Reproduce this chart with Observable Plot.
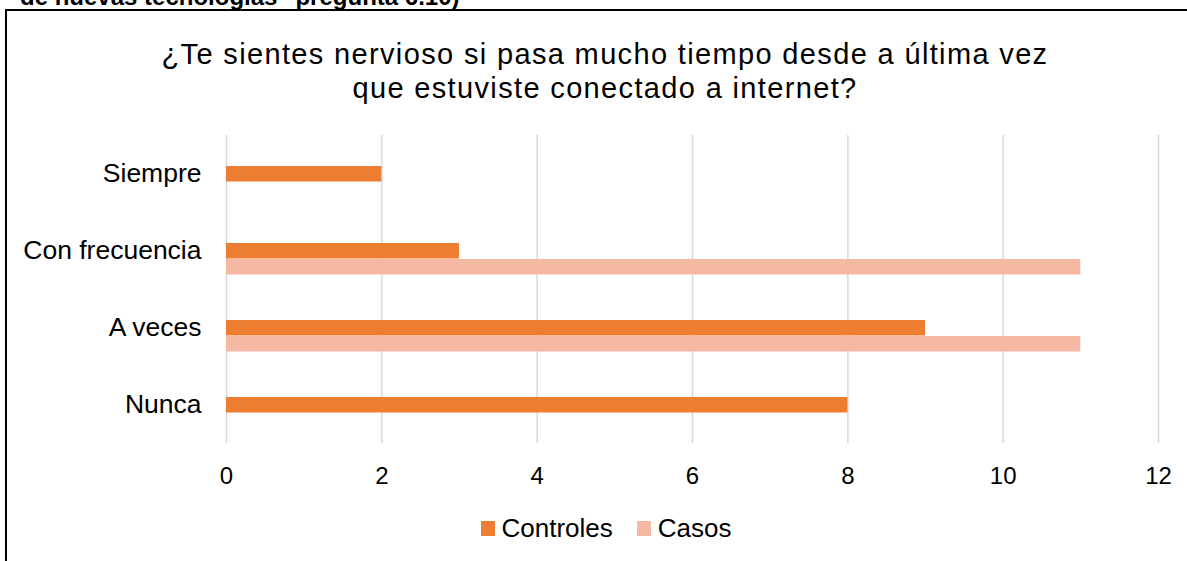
<!DOCTYPE html>
<html>
<head>
<meta charset="utf-8">
<script src="https://cdn.jsdelivr.net/npm/d3@7"></script>
<script src="https://cdn.jsdelivr.net/npm/@observablehq/plot@0.6"></script>
<style>
  body { margin: 0; background: #fff; font-family: "Liberation Sans", Arial, sans-serif; }
  #wrap { position: relative; width: 1187px; height: 561px; overflow: hidden; background: #fff; }
  #head { position: absolute; left: 20px; top: -15px; font-weight: bold; font-size: 24px; line-height: 24px; white-space: nowrap; color: #000; }
  #box { position: absolute; left: 5px; top: 9px; width: 1300px; height: 700px; border: 2px solid #000; box-sizing: border-box; }
  #title { position: absolute; left: 0; width: 1210px; top: 37px; text-align: center; font-size: 29px; line-height: 34px; letter-spacing: 1.35px; color: #000; }
  #chart { position: absolute; left: 0; top: 120px; }
  #legend { position: absolute; left: 0; width: 1212px; top: 513px; display: flex; justify-content: center; align-items: center; font-size: 26px; line-height: 30px; color: #000; }
  .item { display: flex; align-items: center; margin: 0 12px; }
  .sw { width: 14px; height: 15px; margin-right: 7px; }
</style>
</head>
<body>
<div id="wrap">
  <div id="head">de nuevas tecnologías" pregunta 6.10)</div>
  <div id="box"></div>
  <div id="title">¿Te sientes nervioso si pasa mucho tiempo desde a última vez<br>que estuviste conectado a internet?</div>
  <div id="chart"></div>
  <div id="legend"></div>
</div>
<script>
const categories = ["Siempre", "Con frecuencia", "A veces", "Nunca"];
const controles = [2, 3, 9, 8];
const casos = [0, 11, 11, 0];
const xTicks = [0, 2, 4, 6, 8, 10, 12];
const seriesNames = ["Controles", "Casos"];
const seriesColors = ["#ED7D31", "#F4B8A3"];

const rows = categories.map((c, i) => ({cat: c, Controles: controles[i], Casos: casos[i]}));

const chart = Plot.plot({
  width: 1187,
  height: 383,
  marginTop: 15,
  marginBottom: 60,
  marginLeft: 226,
  marginRight: 29,
  style: {fontFamily: '"Liberation Sans", Arial, sans-serif', color: "#000", background: "transparent"},
  x: {domain: [0, 12]},
  y: {domain: categories, padding: 0},
  marks: [
    Plot.gridX(xTicks, {stroke: "#d9d9d9", strokeOpacity: 1, strokeWidth: 1.5}),
    Plot.barX(rows, {x: "Controles", y: "cat", fill: seriesColors[0], insetTop: 31, insetBottom: 30.5}),
    Plot.barX(rows.filter(d => d.Casos > 0), {x: "Casos", y: "cat", fill: seriesColors[1], insetTop: 47, insetBottom: 14.5}),
    Plot.axisX({ticks: xTicks, tickSize: 0, tickPadding: 23, fontSize: 24, label: null}),
    Plot.axisY({tickSize: 0, tickPadding: 25, fontSize: 26.5, label: null})
  ]
});
document.getElementById("chart").appendChild(chart);

const legend = document.getElementById("legend");
seriesNames.forEach((n, i) => {
  const it = document.createElement("div");
  it.className = "item";
  const sw = document.createElement("div");
  sw.className = "sw";
  sw.style.background = seriesColors[i];
  const t = document.createElement("span");
  t.textContent = n;
  it.appendChild(sw);
  it.appendChild(t);
  legend.appendChild(it);
});
</script>
</body>
</html>
